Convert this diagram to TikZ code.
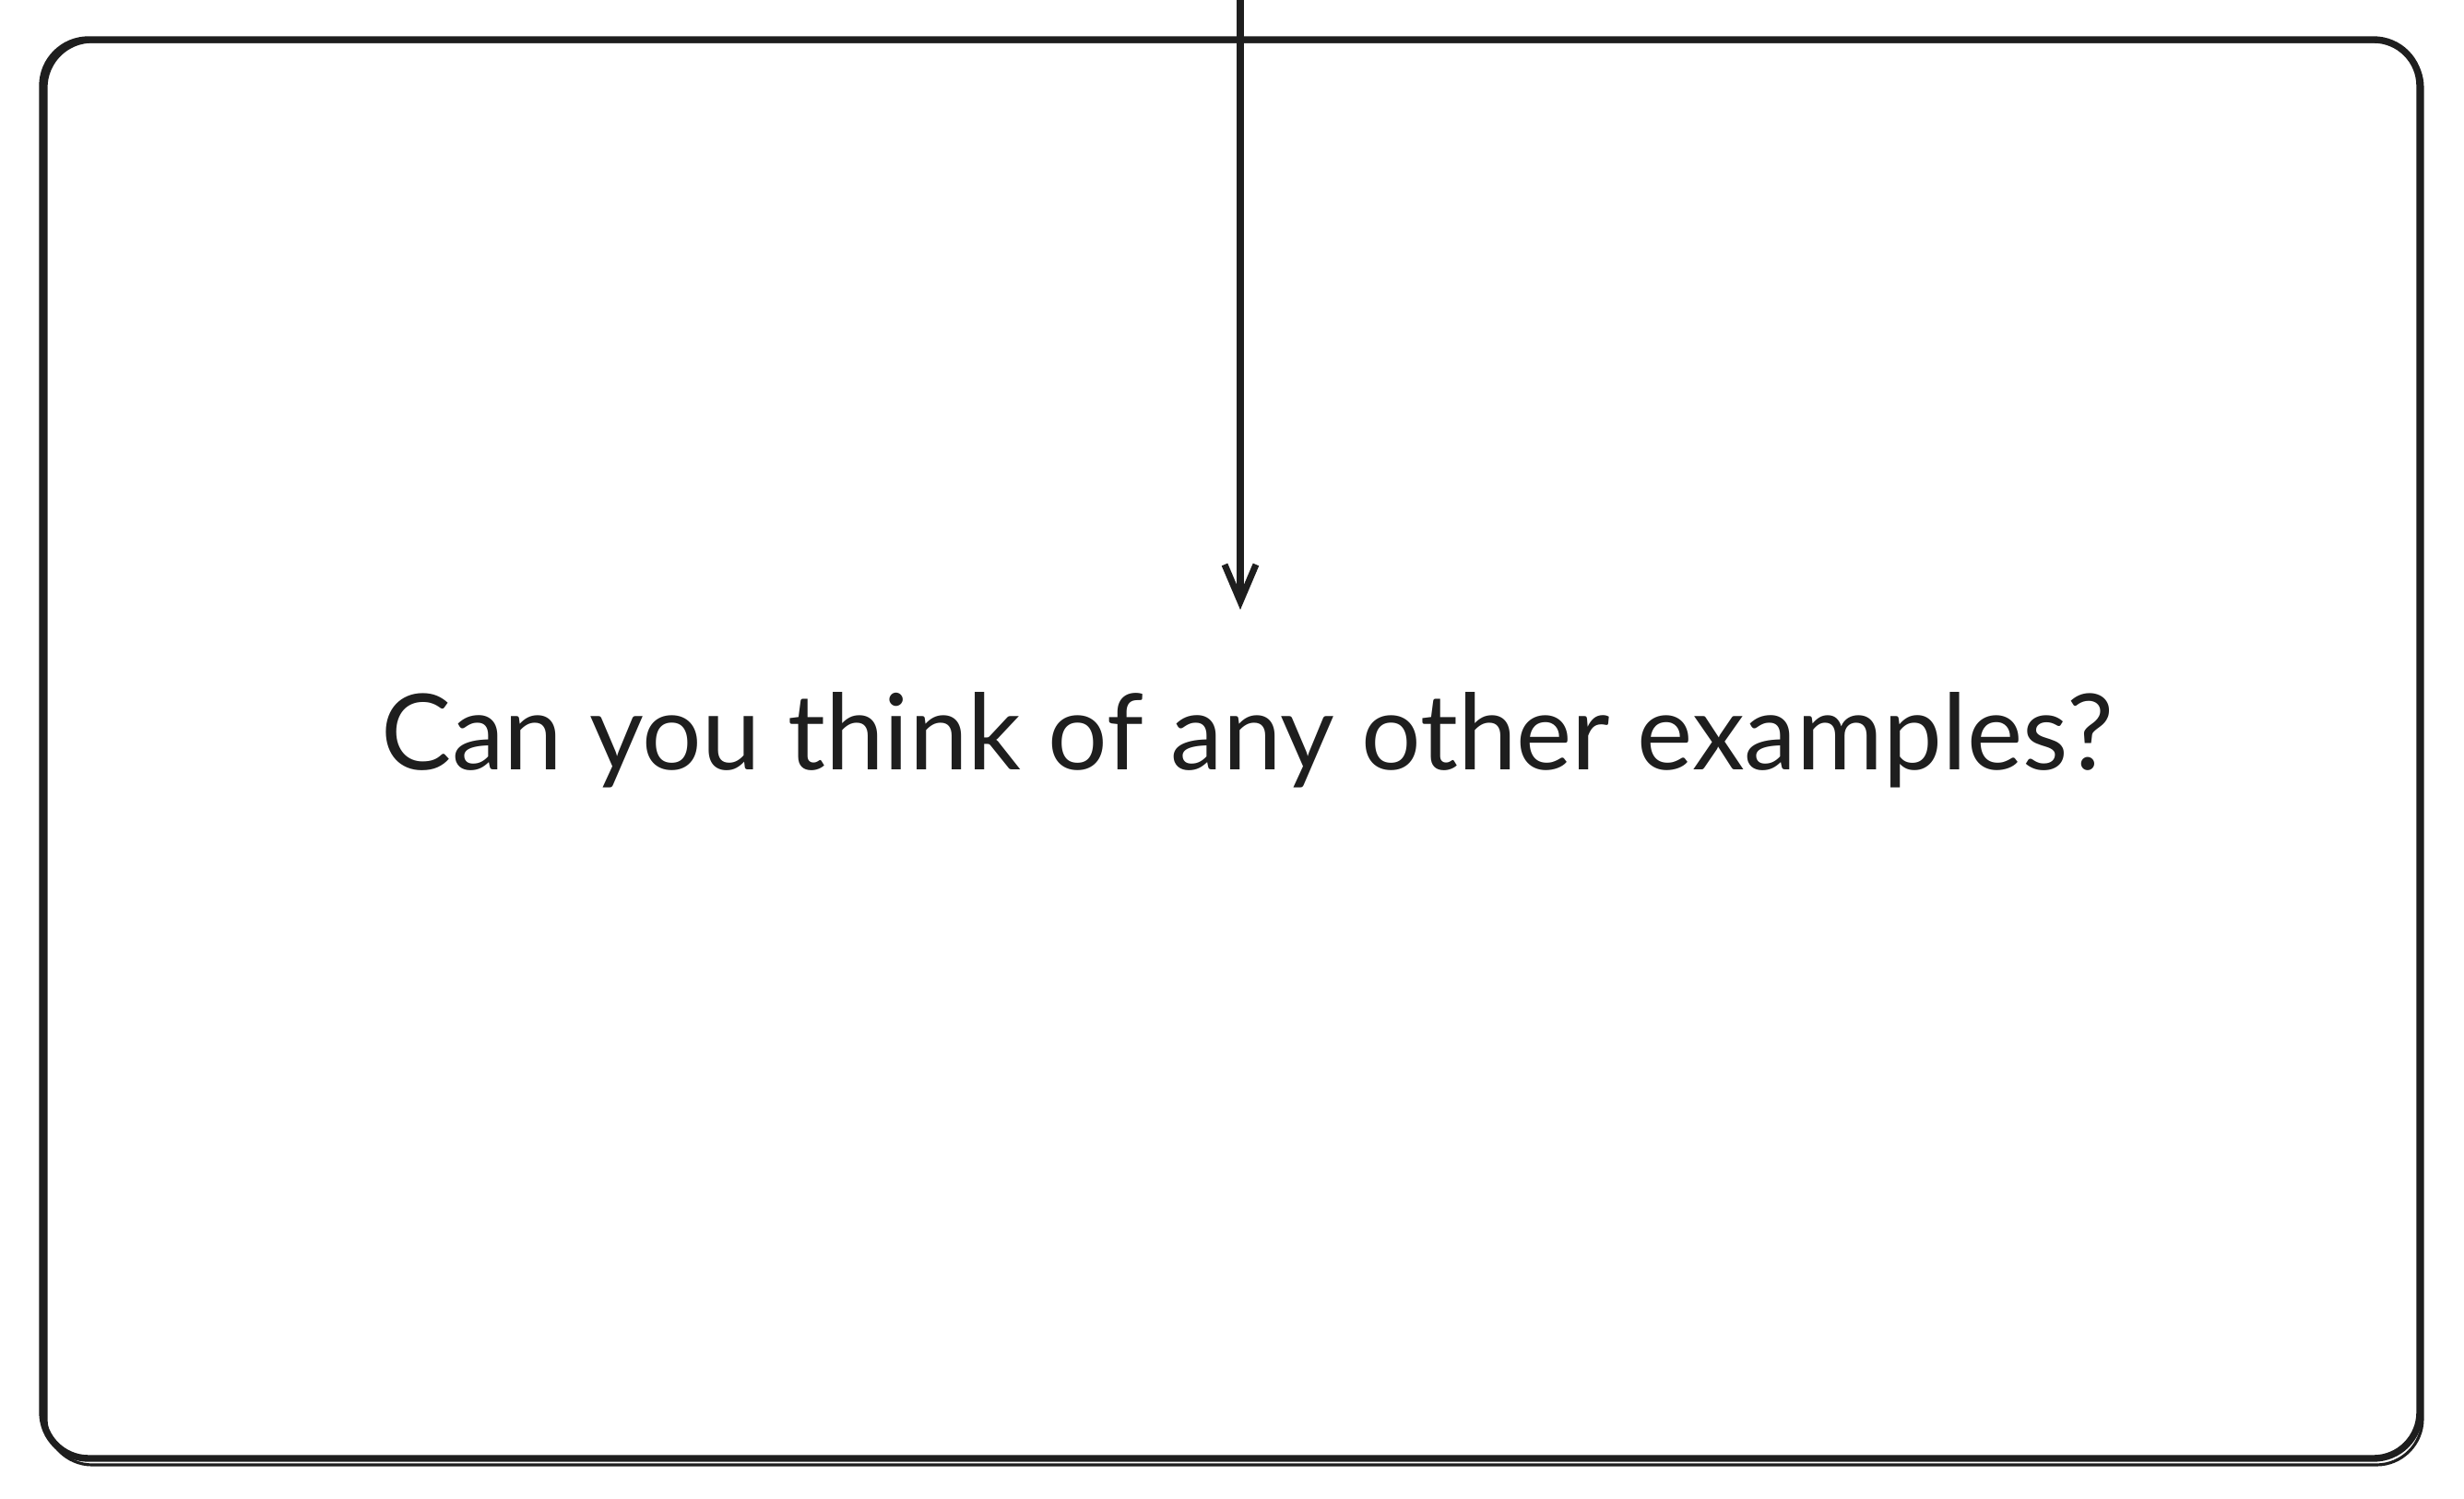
\documentclass[tikz,border=0pt]{standalone}
\usepackage{fontspec}
\setmainfont{Lato}
\usetikzlibrary{arrows.meta}
\definecolor{ink}{HTML}{1E1E1E}
\tikzset{
  frame/.style={draw=ink, line width=2.1pt, rounded corners=0.5cm},
  sketch/.style={draw=ink, line width=0.9pt, rounded corners=0.5cm},
  conn/.style={draw=ink, line width=2pt, -{Straight Barb[length=0.4cm,width=0.34cm,line width=2pt]}},
  label/.style={text=ink, inner sep=0pt, anchor=base}
}
\begin{document}
\begin{tikzpicture}
\useasboundingbox (0,0) rectangle (26.72,16.24);
\fill[white] (0,0) rectangle (26.72,16.24);
% frame
\draw[frame] (0.46,0.43) rectangle (26.24,15.81);
\draw[sketch] (0.50,0.36) rectangle (26.27,15.79);
% text
\node[label] (q) at (13.53,7.89) {\resizebox{18.78cm}{!}{Can you think of any other examples?}};
% connector
\coordinate (src) at (13.45,16.24);
\coordinate (tip) at (13.45,9.63);
\draw[conn] (src) -- (tip);
\end{tikzpicture}
\end{document}
